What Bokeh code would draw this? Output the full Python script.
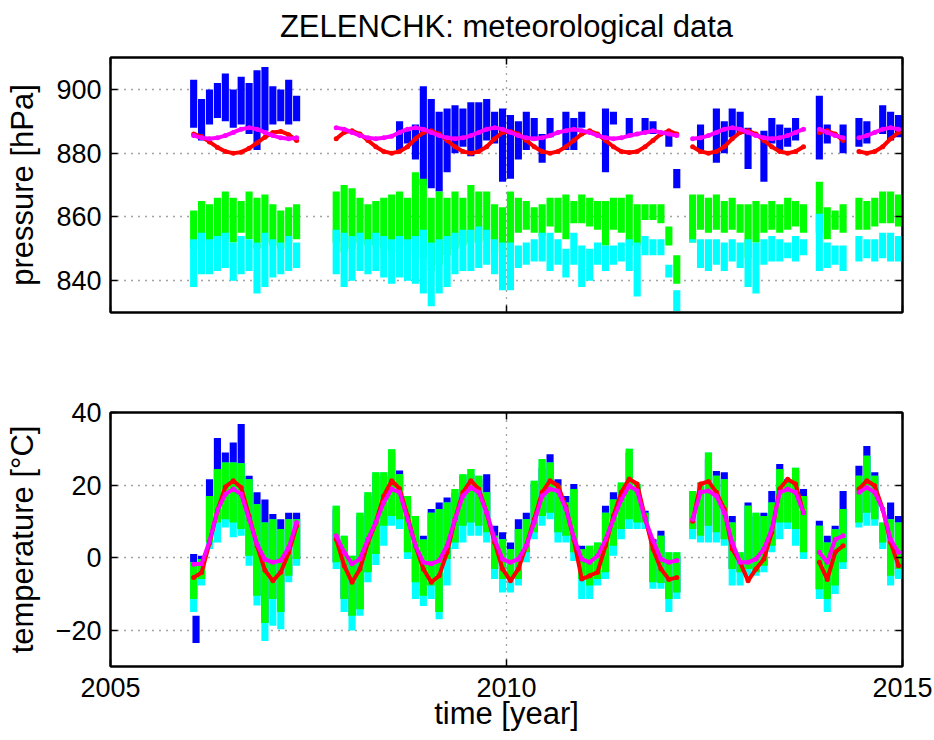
import math
from bokeh.plotting import figure
from bokeh.layouts import column
from bokeh.models import Range1d, LinearAxis, FixedTicker, CustomJSTickFormatter
from bokeh.embed import file_html
from bokeh.resources import INLINE

FONT = "Liberation Sans"
NAN = float("nan")

# ---------------- data (binned ~0.1 yr) ----------------
t_bins = [2006.05, 2006.15, 2006.25, 2006.35, 2006.45, 2006.55, 2006.65, 2006.75, 2006.85, 2006.95,
          2007.05, 2007.15, 2007.25, 2007.35,
          2007.85, 2007.95, 2008.05, 2008.15, 2008.25, 2008.35, 2008.45, 2008.55, 2008.65, 2008.75, 2008.85, 2008.95,
          2009.05, 2009.15, 2009.25, 2009.35, 2009.45, 2009.55, 2009.65, 2009.75, 2009.85, 2009.95,
          2010.05, 2010.15, 2010.25, 2010.35, 2010.45, 2010.55, 2010.65, 2010.75, 2010.85, 2010.95,
          2011.05, 2011.15, 2011.25, 2011.35, 2011.45, 2011.55, 2011.65, 2011.75, 2011.85, 2011.95,
          2012.05, 2012.15, 2012.35, 2012.45, 2012.55, 2012.65, 2012.75, 2012.85, 2012.95,
          2013.05, 2013.15, 2013.25, 2013.35, 2013.45, 2013.55, 2013.65, 2013.75, 2013.95,
          2014.05, 2014.15, 2014.25, 2014.45, 2014.55, 2014.65, 2014.75, 2014.85, 2014.95]

# pressure [hPa]
pres_blue_lo = [888, 884, 889, 891, 890, 888, 889, 886, 881, 887, 889, 890, 889, 890,
                NAN, NAN, NAN, NAN, NAN, NAN, NAN, NAN, 881, 883, 878, 870,
                869, 868, 874, 880, 882, 879, 881, 884, 883, 871,
                872, 878, 881, 884, 877, 885, NAN, 881, 881, 888,
                NAN, NAN, 874, 889, NAN, 885, NAN, 886, 886, NAN,
                882, 869, NAN, 881, NAN, 877, 880, 885, 886,
                875, NAN, 871, 883, 881, 882, 884, NAN, 878,
                883, NAN, 880, 882, 883, NAN, 886, 884, 885]
pres_blue_hi = [903, 897, 900, 902, 905, 900, 904, 902, 906, 907, 901, 900, 903, 898,
                NAN, NAN, NAN, NAN, NAN, NAN, NAN, NAN, 890, 887, 889, 901,
                897, 893, 894, 895, 894, 896, 896, 897, 893, 894,
                892, 890, 893, 891, 886, 891, NAN, 893, 891, 893,
                NAN, NAN, 894, 893, NAN, 891, NAN, 891, 890, NAN,
                887, 875, NAN, 889, NAN, 894, 890, 894, 893,
                888, NAN, 887, 891, 889, 888, 891, NAN, 898,
                889, NAN, 889, 891, 890, NAN, 895, 893, 892]
pres_green_lo = [850, 851, 852, 850, 853, 852, 855, 853, 850, 852, 851, 850, 852, 853,
                 852, 849, 850, 852, 851, 851, 850, 849, 851, 850, 848, 847,
                 843, 845, 848, 850, 851, 852, 852, 853, 849, 848,
                 847, 855, 856, 855, 854, 857, 855, 853, 858, 858,
                 857, 856, 851, 856, 855, 851, 851, 859, 859, 858,
                 851, 839, 852, 856, 855, 856, 855, 856, 855,
                 847, 852, 855, 856, 855, 856, 857, 855, 855,
                 853, 856, 855, 856, 856, 857, 858, 858, 857]
pres_green_hi = [862, 865, 864, 866, 868, 866, 865, 868, 866, 867, 864, 862, 863, 864,
                 868, 870, 869, 866, 864, 865, 866, 867, 868, 866, 874, 872,
                 866, 868, 866, 868, 866, 870, 868, 868, 864, 863,
                 868, 866, 865, 863, 864, 866, 866, 867, 865, 867,
                 866, 865, 865, 866, 866, 867, 864, 864, 864, 864,
                 857, 848, 867, 867, 866, 867, 865, 866, 864,
                 864, 865, 864, 865, 864, 866, 865, 864, 871,
                 863, 862, 864, 866, 865, 866, 868, 868, 867]
pres_cyan_lo = [838, 842, 842, 843, 844, 840, 842, 843, 836, 838, 841, 842, 843, 844,
                842, 838, 840, 843, 842, 843, 841, 839, 841, 840, 839, 836,
                832, 836, 838, 842, 843, 843, 844, 845, 842, 837,
                837, 844, 845, 846, 846, 843, 845, 841, 845, 838,
                840, 845, 843, 845, 846, 843, 835, 848, 848, 848,
                841, 830.5, 852, 844, 843, 845, 843, 846, 844,
                838, 836, 845, 846, 846, 847, 846, 848, 843,
                844, 845, 843, 846, 847, 846, 847, 846, 846]
pres_cyan_hi = [853, 855, 853, 854, 855, 852, 854, 853, 852, 855, 853, 852, 854, 852,
                856, 855, 854, 855, 853, 855, 854, 853, 854, 853, 854, 856,
                852, 853, 854, 855, 856, 856, 857, 856, 853, 852,
                852, 851, 852, 853, 855, 855, 853, 850, 855, 851,
                850, 852, 851, 851, 852, 853, 852, 854, 853, 853,
                845, 837, 853, 853, 853, 853, 852, 853, 852,
                853, 852, 853, 854, 853, 852, 854, 853, 861,
                852, 851, 851, 854, 853, 853, 855, 855, 854]
pres_red = [886.0, 885.2, 883.5, 881.8, 880.5, 880.0, 880.3, 881.5, 883.2, 885.0, 886.5, 886.8, 885.8, 884.0,
            884.5, 886.5, 887.0, 886.0, 884.0, 882.0, 880.5, 880.0, 880.5, 882.0, 884.5, 886.5,
            887.0, 886.0, 884.0, 882.0, 880.5, 880.0, 880.5, 882.0, 884.5, 886.5,
            886.8, 886.0, 884.0, 882.0, 880.5, 880.0, 880.5, 882.0, 884.0, 886.0,
            887.0, 886.0, 884.0, 882.0, 880.5, 880.2, 880.5, 882.0, 884.0, 886.0,
            887.0, 886.0, 882.0, 880.5, 880.0, 880.5, 882.0, 884.5, 886.5,
            887.0, 886.0, 884.0, 882.0, 880.5, 880.0, 880.5, 882.0, 886.5,
            887.0, 886.0, 884.0, 880.5, 880.0, 880.5, 882.0, 884.5, 886.5]
pres_magenta = [885.5, 884.8, 884.5, 884.8, 885.5, 886.5, 887.5, 888.0, 887.5, 886.5, 885.5, 884.8, 884.5, 884.8,
                888.0, 887.5, 886.5, 885.5, 884.8, 884.5, 884.8, 885.3, 886.5, 887.5, 888.0, 887.5,
                886.5, 885.5, 884.8, 884.5, 884.8, 885.5, 886.5, 887.5, 888.0, 887.5,
                886.5, 885.5, 884.8, 884.5, 884.8, 885.5, 886.5, 887.0, 887.5, 887.0,
                886.5, 885.5, 884.8, 884.5, 884.8, 885.5, 886.0, 886.5, 887.0, 886.5,
                886.0, 885.5, 884.5, 884.8, 885.5, 886.5, 887.5, 888.0, 887.5,
                886.5, 885.5, 884.8, 884.5, 884.8, 885.5, 886.5, 887.5, 887.5,
                886.5, 885.5, 884.8, 884.8, 885.5, 886.5, 887.5, 888.0, 887.5]

# temperature [deg C]
temp_blue_hi = [1.0, 0.5, 21.6, 33.0, 29.0, 31.7, 36.8, 22.6, 18.0, 16.0, 12.0, 10.6, 12.4, 12.4,
                13.3, 5.0, -0.5, 11.4, 17.0, 22.5, 22.5, 28.9, 24.0, 16.0, 10.5, 6.0,
                13.4, 15.2, 16.6, 17.9, 22.6, 23.0, 21.6, 23.0, 8.8, 7.0,
                4.2, 10.6, 12.4, 20.2, 24.8, 28.5, 21.6, 17.0, 20.3, 3.3,
                2.3, 3.2, 14.3, 18.0, 20.0, 29.0, 19.3, 12.9, 5.1, 7.4,
                -1.8, 0.5, 17.4, 19.7, 27.1, 23.9, 23.5, 11.5, 0.5,
                15.2, 11.4, 12.4, 18.4, 25.8, 21.6, 24.0, 18.9, 10.2,
                6.0, 8.8, 18.4, 25.3, 30.8, 23.5, 8.7, 15.2, 11.5]
temp_green_hi = [-1.3, -0.4, 17.0, 24.4, 26.2, 26.2, 26.0, 21.6, 14.7, 9.7, 10.6, 7.9, 10.6, 10.6,
                 14.3, 6.0, 0.5, 12.4, 18.0, 23.5, 23.5, 29.9, 23.0, 17.0, 11.5, 5.0,
                 12.4, 13.4, 15.2, 18.9, 23.0, 24.4, 22.6, 18.0, 6.0, 5.1,
                 2.4, 7.9, 10.6, 21.2, 27.2, 26.2, 19.8, 15.2, 18.9, 2.4,
                 3.3, 4.2, 12.4, 16.0, 20.7, 30.0, 20.3, 12.4, 4.2, 6.0,
                 1.5, 1.5, 18.4, 20.7, 29.0, 22.6, 21.6, 9.7, 1.5,
                 14.3, 12.4, 11.5, 15.2, 24.4, 20.7, 24.8, 17.0, 8.8,
                 4.2, 7.8, 13.4, 22.6, 28.1, 22.6, 9.7, 10.6, 9.7]
temp_green_lo = [-11.4, -5.9, 4.2, 9.7, 10.6, 9.7, 7.9, 0.5, -10.5, -18.0, -11.4, -15.0, -5.0, -0.4,
                 -1.3, -11.4, -16.0, -14.2, -4.0, 1.0, 8.8, 11.5, 10.6, 1.5, -6.8, -10.5,
                 -7.7, -15.0, -0.4, 4.2, 8.8, 9.7, 8.8, 7.0, -3.1, -5.9,
                 -5.9, -5.9, 1.5, 7.0, 11.5, 12.4, 7.0, 6.0, 1.5, -5.9,
                 -7.7, -5.9, -4.0, 3.3, 7.9, 10.6, 9.7, 9.7, -6.8, -7.0,
                 -11.4, -9.6, 7.9, 6.0, 8.8, 7.0, 5.1, -3.1, -4.0,
                 -3.1, -4.0, -2.2, 3.3, 9.7, 9.7, 7.9, 1.5, -8.7,
                 -11.4, -7.7, -1.3, 9.7, 12.4, 10.6, 4.2, -5.0, -3.1]
temp_cyan_lo = [-15.0, -7.7, 2.4, 4.2, 8.3, 5.6, 6.0, -2.2, -13.2, -23.0, -18.8, -19.7, -6.8, -2.2,
                -3.1, -15.0, -20.1, -16.0, -6.8, -2.0, 3.3, 8.8, 7.9, -0.4, -11.4, -13.3,
                -11.4, -17.0, -7.7, 2.4, 4.2, 6.0, 6.0, 4.2, -5.9, -9.6,
                -9.6, -7.7, -1.3, 5.1, 8.8, 10.6, 4.2, 4.2, -0.9, -11.4,
                -11.4, -7.7, -5.9, 0.5, 5.1, 7.9, 7.9, 7.9, -8.6, -8.6,
                -15.0, -11.4, 5.1, 4.2, 4.2, 4.2, 3.3, -7.7, -7.7,
                -5.0, -5.0, -4.0, 1.5, 5.1, 7.9, 3.3, -0.4, -11.4,
                -15.0, -10.0, -3.1, 8.3, 8.8, 8.8, 2.4, -7.7, -5.9]
temp_red = [-5.5, -4.1, 4.0, 13.0, 19.5, 21.2, 19.3, 11.5, 3.3, -3.5, -6.4, -4.0, 1.4, 8.8,
            5.1, -2.2, -6.8, -3.1, 4.2, 9.7, 17.0, 21.2, 19.0, 11.5, 3.3, -3.1,
            -6.8, -5.0, 1.5, 10.6, 18.0, 21.2, 18.9, 12.4, 4.2, -3.1,
            -6.4, -3.1, 3.3, 10.6, 18.0, 21.2, 19.8, 14.0, 5.0, -5.9,
            -5.0, -4.0, 3.3, 11.5, 18.0, 21.7, 20.3, 11.0, 2.4, -3.1,
            -6.0, -5.5, 10.0, 20.3, 21.0, 18.0, 13.4, 2.4, -1.3,
            -6.4, -3.1, -0.4, 7.0, 19.0, 21.6, 20.3, 12.4, -1.3,
            -6.0, 1.5, 3.3, 18.9, 21.2, 19.8, 13.4, 4.2, -2.2]
temp_magenta = [-1.8, -1.7, 4.5, 13.0, 17.5, 18.9, 17.5, 10.6, 3.7, -0.5, -1.3, -0.8, 2.8, 9.7,
                6.0, 1.5, -1.7, -0.4, 5.1, 9.7, 15.2, 18.9, 18.0, 10.6, 3.3, -1.3,
                -1.7, -0.8, 3.3, 10.6, 17.0, 19.3, 18.0, 12.4, 5.1, -0.4,
                -1.3, -0.4, 3.3, 9.7, 17.0, 18.9, 18.4, 13.5, 5.5, -0.4,
                -1.3, 0.5, 5.0, 10.6, 16.0, 19.8, 18.4, 10.6, 4.7, -0.4,
                -1.3, -0.8, 10.6, 18.0, 18.4, 17.0, 12.4, 4.2, -1.3,
                -1.3, -0.4, 2.4, 7.9, 18.0, 18.9, 18.0, 12.4, 1.5,
                -1.3, 5.0, 6.0, 18.0, 19.3, 18.0, 13.4, 5.0, 1.5]
# an isolated low blue reading early 2006
temp_blue_extra_t = [2006.08]
temp_blue_extra_lo = [-23.5]
temp_blue_extra_hi = [-16.0]

x_ticks = [2005, 2010, 2015]
pres_ticks = [840, 860, 880, 900]
temp_ticks = [-20, 0, 20, 40]
title_text = "ZELENCHK: meteorological data"

BLUE, GREEN, CYAN, RED, MAGENTA = "#0000ff", "#00ff00", "#00ffff", "#ff0000", "#ff00ff"
BAR_W = 0.09


def breaks(ts, vs, gap=0.15):
    xs, ys = [], []
    for i, (t, v) in enumerate(zip(ts, vs)):
        if i > 0 and t - ts[i - 1] > gap:
            xs.append(NAN)
            ys.append(NAN)
        xs.append(t)
        ys.append(v)
    return xs, ys


def finite(ts, lo, hi):
    keep = [i for i in range(len(ts)) if not (math.isnan(lo[i]) or math.isnan(hi[i]))]
    return [ts[i] for i in keep], [lo[i] for i in keep], [hi[i] for i in keep]


def empty_labels():
    return CustomJSTickFormatter(code="return ''")


def tick_style(ax):
    ax.major_tick_in = 7
    ax.major_tick_out = 0
    ax.minor_tick_in = 0
    ax.minor_tick_out = 0
    ax.axis_line_width = 2
    ax.axis_line_color = "black"
    ax.major_tick_line_width = 1.5
    ax.major_tick_line_color = "black"


def text_style(ax):
    ax.major_label_text_font = FONT
    ax.major_label_text_font_size = "27px"
    ax.major_label_text_color = "black"
    ax.axis_label_text_font = FONT
    ax.axis_label_text_font_size = "31px"
    ax.axis_label_text_font_style = "normal"
    ax.axis_label_text_color = "black"


def make_fig(y0, y1, yticks, b_top, b_bottom):
    p = figure(width=934, height=370, x_range=Range1d(2005, 2015), y_range=Range1d(y0, y1),
               output_backend="svg", toolbar_location=None,
               x_axis_location=None, y_axis_location=None,
               min_border_left=110, min_border_right=32,
               min_border_top=b_top, min_border_bottom=b_bottom)
    p.outline_line_color = "black"
    p.outline_line_width = 2
    p.background_fill_color = "white"
    p.border_fill_color = "white"
    left = LinearAxis(ticker=FixedTicker(ticks=yticks), major_label_standoff=9)
    bottom = LinearAxis(ticker=FixedTicker(ticks=x_ticks))
    right = LinearAxis(ticker=FixedTicker(ticks=yticks), formatter=empty_labels(),
                       major_label_text_font_size="1px", major_label_standoff=0)
    top = LinearAxis(ticker=FixedTicker(ticks=x_ticks), formatter=empty_labels(),
                     major_label_text_font_size="1px", major_label_standoff=0)
    for ax in (left, bottom, right, top):
        tick_style(ax)
    text_style(left)
    text_style(bottom)
    p.add_layout(left, "left")
    p.add_layout(bottom, "below")
    p.add_layout(right, "right")
    p.add_layout(top, "above")
    p.xgrid.ticker = FixedTicker(ticks=[2010])
    p.ygrid.ticker = FixedTicker(ticks=yticks)
    for g in (p.xgrid, p.ygrid):
        g.grid_line_color = "#333333"
        g.grid_line_dash = "1 6"
        g.grid_line_width = 1.3
        g.grid_line_alpha = 0.9
    return p, left, bottom, top


# ---------------- pressure ----------------
p1, left1, bottom1, top1 = make_fig(830, 910, pres_ticks, 57, 58)
bottom1.formatter = empty_labels()
bottom1.major_label_text_font_size = "1px"
top1.axis_label = title_text
text_style(top1)
top1.major_label_text_font_size = "1px"
top1.axis_label_standoff = 14
left1.axis_label = "pressure [hPa]"
left1.axis_label_standoff = 13

bt, blo, bhi = finite(t_bins, pres_blue_lo, pres_blue_hi)
p1.vbar(x=bt, width=BAR_W, bottom=blo, top=bhi, fill_color=BLUE, line_color=None)
p1.vbar(x=t_bins, width=BAR_W, bottom=pres_green_lo, top=pres_green_hi, fill_color=GREEN, line_color=None)
p1.vbar(x=t_bins, width=BAR_W, bottom=pres_cyan_lo, top=pres_cyan_hi, fill_color=CYAN, line_color=None)
for vals, col in ((pres_red, RED), (pres_magenta, MAGENTA)):
    xs, ys = breaks(t_bins, vals)
    p1.line(xs, ys, line_color=col, line_width=4)
    p1.scatter(t_bins, vals, size=5, fill_color=col, line_color=None)

# ---------------- temperature ----------------
p2, left2, bottom2, top2 = make_fig(-30, 40, temp_ticks, 42, 74)
left2.axis_label = "temperature [°C]"
left2.axis_label_standoff = 13
bottom2.axis_label = "time [year]"
bottom2.axis_label_standoff = -4
bottom2.major_label_standoff = 11

p2.vbar(x=t_bins, width=BAR_W, bottom=temp_green_lo, top=temp_blue_hi, fill_color=BLUE, line_color=None)
p2.vbar(x=temp_blue_extra_t, width=BAR_W, bottom=temp_blue_extra_lo, top=temp_blue_extra_hi,
        fill_color=BLUE, line_color=None)
p2.vbar(x=t_bins, width=BAR_W, bottom=temp_cyan_lo, top=temp_green_hi, fill_color=CYAN, line_color=None)
p2.vbar(x=t_bins, width=BAR_W, bottom=temp_green_lo, top=temp_green_hi, fill_color=GREEN, line_color=None)
for vals, col in ((temp_red, RED), (temp_magenta, MAGENTA)):
    xs, ys = breaks(t_bins, vals)
    p2.line(xs, ys, line_color=col, line_width=4)
    p2.scatter(t_bins, vals, size=5, fill_color=col, line_color=None)

layout = column(p1, p2, spacing=0)
open("out.html", "w").write(file_html(layout, INLINE))
